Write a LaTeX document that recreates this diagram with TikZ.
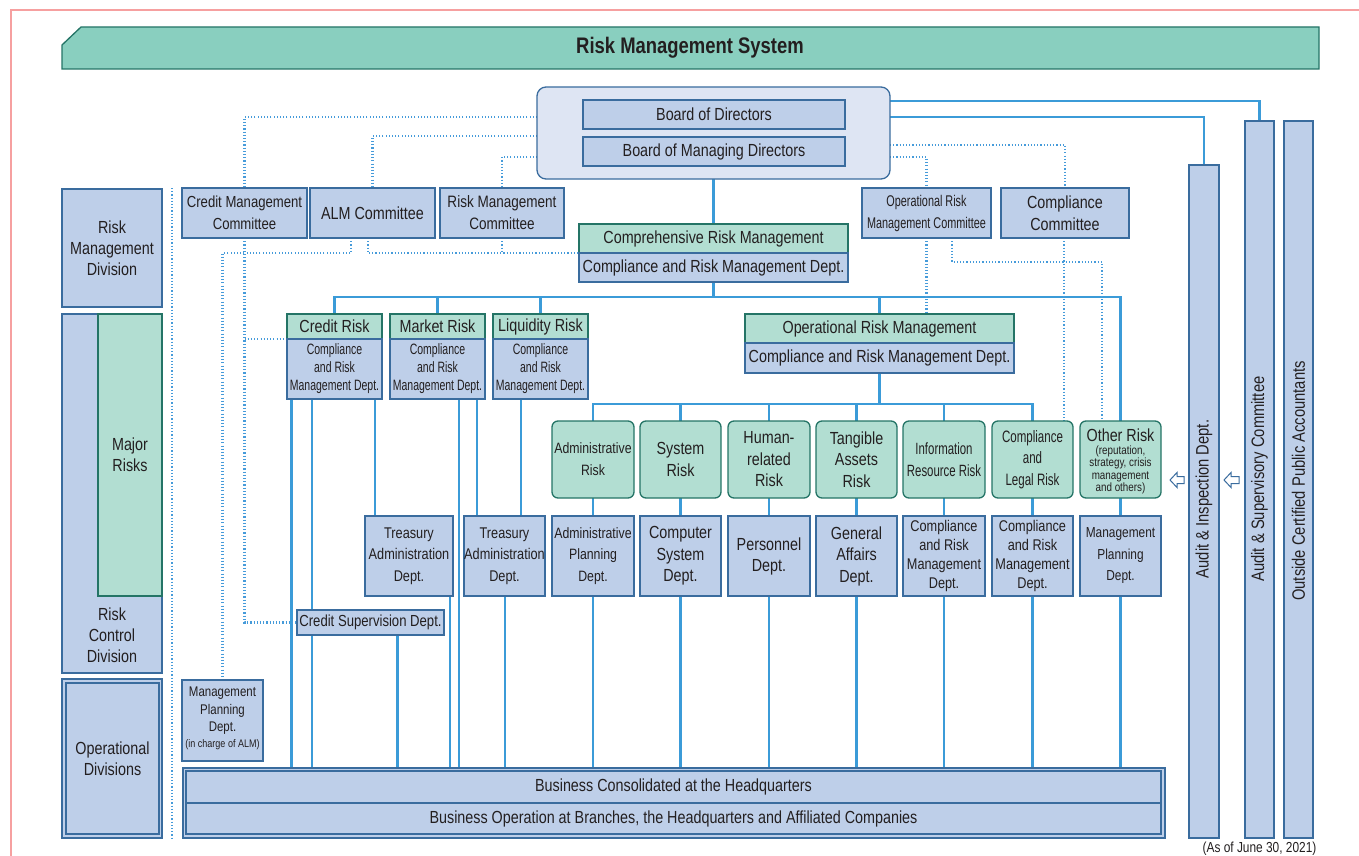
\documentclass[tikz,border=0pt]{standalone}
\usepackage{fontspec}
\setmainfont{Liberation Sans}[FakeStretch=0.82]
\newfontfamily\cond{Liberation Sans}[FakeStretch=0.7]
\usetikzlibrary{backgrounds}
\definecolor{boxc}{RGB}{190,207,233}
\definecolor{boxb}{RGB}{58,108,158}
\definecolor{grc}{RGB}{178,222,210}
\definecolor{grb}{RGB}{36,116,102}
\definecolor{titc}{RGB}{137,207,191}
\definecolor{lnc}{RGB}{59,155,216}
\definecolor{dotc}{RGB}{70,155,218}
\definecolor{contc}{RGB}{222,229,243}
\definecolor{txtc}{RGB}{35,31,32}
\definecolor{pinkc}{RGB}{246,160,160}
\newcommand\fsz[2]{\fontsize{#1}{#2}\selectfont}
\newcommand\mkbox[7]{\node[#1,minimum width={#5-#3},minimum height={#6-#4}] (#2) at ({(#3+#5)/2},{(#4+#6)/2}) {#7};}
\tikzset{
 base/.style={draw=boxb, line width=1.3pt, inner sep=0pt, outer sep=0pt, align=center, text=txtc, font=\fsz{17.5}{21}},
 bbox/.style={base, fill=boxc},
 gbox/.style={base, fill=grc, draw=grb},
 rbox/.style={gbox, rounded corners=6pt},
 cont/.style={base, fill=contc, rounded corners=9pt},
 sol/.style={draw=lnc, line width=2.2pt},
 dotl/.style={draw=dotc, line width=2.3pt, dash pattern=on 1.1pt off 2.1pt},
 lbl/.style={inner sep=0pt, outer sep=0pt, align=center, text=txtc},
 harrow/.style={draw=boxb, fill=white, line width=1pt},
}
\begin{document}
\begin{tikzpicture}[x=1pt,y=-1pt]
\useasboundingbox (0,0) rectangle (1359,856);
\draw[pinkc, line width=1.3pt] (11,856) -- (11,10) -- (1359,10);
% title
\filldraw[fill=titc, draw=grb, line width=1.3pt] (62,45) -- (81,27) -- (1319,27) -- (1319,69) -- (62,69) -- cycle;
\node[lbl, font=\bfseries\fsz{22.5}{26}] (title) at (690,48) {Risk Management System};
% board
\mkbox{cont}{board}{537}{87}{890}{179}{}
\mkbox{bbox}{bod}{583}{100}{845}{129}{Board of Directors}
\mkbox{bbox}{bomd}{583}{137}{845}{166}{Board of Managing Directors}
% committees
\mkbox{bbox,font=\fsz{16}{22}}{cmc}{182}{188}{307}{238}{Credit Management\\Committee}
\mkbox{bbox}{alm}{310}{188}{435}{238}{ALM Committee}
\mkbox{bbox,font=\fsz{16.5}{22}}{rmc}{440}{188}{564}{238}{Risk Management\\Committee}
\mkbox{bbox,font={\cond\fsz{15.5}{22}}}{orc}{862}{188}{991}{238}{Operational Risk\\Management Committee}
\mkbox{bbox,font=\fsz{17.5}{22}}{ccm}{1001}{188}{1129}{238}{Compliance\\Committee}
% comprehensive
\mkbox{gbox}{compH}{579}{224}{848}{253}{Comprehensive Risk Management}
\mkbox{bbox}{compB}{579}{253}{848}{282}{Compliance and Risk Management Dept.}
% left divisions
\mkbox{bbox}{rmd}{62}{189}{162}{307}{Risk\\Management\\Division}
\mkbox{bbox}{rcd}{62}{314}{162}{673}{}
\mkbox{gbox}{major}{98}{314}{162}{596}{Major\\Risks}
\node[lbl, font=\fsz{17.5}{21}] (rcdt) at (112,635) {Risk\\Control\\Division};
\mkbox{bbox}{opdo}{62}{679}{162}{838}{}
\mkbox{bbox}{opd}{66}{683}{159}{834}{Operational\\Divisions}
% major risks
\mkbox{gbox}{credH}{287}{314}{382}{339}{Credit Risk}
\mkbox{bbox,font={\cond\fsz{15}{18}}}{credB}{287}{339}{382}{399}{Compliance\\and Risk\\Management Dept.}
\mkbox{gbox}{mktH}{390}{314}{485}{339}{Market Risk}
\mkbox{bbox,font={\cond\fsz{15}{18}}}{mktB}{390}{339}{485}{399}{Compliance\\and Risk\\Management Dept.}
\mkbox{gbox}{liqH}{493}{314}{588}{339}{Liquidity Risk}
\mkbox{bbox,font={\cond\fsz{15}{18}}}{liqB}{493}{339}{588}{399}{Compliance\\and Risk\\Management Dept.}
\mkbox{gbox}{opH}{745}{314}{1014}{343}{Operational Risk Management}
\mkbox{bbox}{opB}{745}{343}{1014}{373}{Compliance and Risk Management Dept.}
% operational risks
\mkbox{rbox,font=\fsz{15}{22}}{admR}{552}{421}{634}{498}{Administrative\\Risk}
\mkbox{rbox,font=\fsz{17.5}{22}}{sysR}{640}{421}{721}{498}{System\\Risk}
\mkbox{rbox,font=\fsz{17.5}{21.5}}{humR}{728}{421}{810}{498}{Human-\\related\\Risk}
\mkbox{rbox,font=\fsz{17.5}{21.5}}{tanR}{816}{421}{897}{498}{Tangible\\Assets\\Risk}
\mkbox{rbox,font={\cond\fsz{16.3}{22}}}{infR}{903}{421}{985}{498}{Information\\Resource Risk}
\mkbox{rbox,font={\cond\fsz{16.5}{21.5}}}{legR}{992}{421}{1073}{498}{Compliance\\and\\Legal Risk}
\mkbox{rbox}{othR}{1080}{421}{1161}{498}{}
\node[lbl, font=\fsz{17.5}{20}] (othT) at (1120.5,435) {Other Risk};
\node[lbl, font=\fsz{12}{12.5}] (othS) at (1120.5,470) {(reputation,\\strategy, crisis\\management\\and others)};
% departments
\mkbox{bbox,font=\fsz{15.5}{21.5}}{tre1}{365}{516}{453}{596}{Treasury\\Administration\\Dept.}
\mkbox{bbox,font=\fsz{15.5}{21.5}}{tre2}{464}{516}{545}{596}{Treasury\\Administration\\Dept.}
\mkbox{bbox,font=\fsz{15}{21.5}}{admD}{552}{516}{634}{596}{Administrative\\Planning\\Dept.}
\mkbox{bbox,font=\fsz{17.5}{21.5}}{sysD}{640}{516}{721}{596}{Computer\\System\\Dept.}
\mkbox{bbox,font=\fsz{17.5}{21}}{humD}{728}{516}{810}{596}{Personnel\\Dept.}
\mkbox{bbox,font=\fsz{17.5}{21.5}}{tanD}{816}{516}{897}{596}{General\\Affairs\\Dept.}
\mkbox{bbox,font=\fsz{15.5}{19}}{infD}{903}{516}{985}{596}{Compliance\\and Risk\\Management\\Dept.}
\mkbox{bbox,font=\fsz{15.5}{19}}{legD}{992}{516}{1073}{596}{Compliance\\and Risk\\Management\\Dept.}
\mkbox{bbox,font=\fsz{14.5}{21.5}}{othD}{1080}{516}{1161}{596}{Management\\Planning\\Dept.}
\mkbox{bbox,font=\fsz{16}{20}}{csd}{297}{610}{444}{635}{Credit Supervision Dept.}
\mkbox{bbox,font=\fsz{14}{17.5}}{mpd}{182}{680}{263}{761}{}
\node[lbl, font=\fsz{14}{17.5}] (mpdt) at (222.5,711) {Management\\Planning\\Dept.};
\node[lbl, font=\fsz{11}{12}] (mpds) at (222.5,745) {(in charge of ALM)};
% business
\mkbox{bbox}{busO}{183}{768}{1165}{838}{}
\mkbox{bbox}{busA}{186}{771}{1161}{803}{Business Consolidated at the Headquarters}
\mkbox{bbox}{busB}{186}{803}{1161}{834}{Business Operation at Branches, the Headquarters and Affiliated Companies}
% audit columns
\mkbox{bbox}{aud1}{1189}{165}{1219}{838}{}
\mkbox{bbox}{aud2}{1245}{121}{1274}{838}{}
\mkbox{bbox}{cpa}{1284}{121}{1313}{838}{}
\node[lbl, rotate=90, font=\fsz{18}{20}] (aud1t) at (1204,499) {Audit \& Inspection Dept.};
\node[lbl, rotate=90, font=\fsz{18}{20}] (aud2t) at (1259.5,479) {Audit \& Supervisory Committee};
\node[lbl, rotate=90, font=\fsz{18}{20}] (cpat) at (1298.5,481) {Outside Certified Public Accountants};
\node[lbl, font=\fsz{14.5}{16}] (asof) at (1259.5,848.5) {(As of June 30, 2021)};
% hollow arrows
\filldraw[harrow] (1170,480) -- (1177,472.5) -- (1177,476.5) -- (1184,476.5) -- (1184,483.5) -- (1177,483.5) -- (1177,487.5) -- cycle;
\filldraw[harrow] (1224,480) -- (1231,472.5) -- (1231,476.5) -- (1239,476.5) -- (1239,483.5) -- (1231,483.5) -- (1231,487.5) -- cycle;
% connectors
\begin{pgfonlayer}{background}
\draw[sol] (bod.south) -- (bomd.north);
\draw[sol] (board.south) -- (compH.north);
\draw[sol] (board.east |- 0,101) -| (aud2.north);
\draw[sol] (board.east |- 0,117) -| (aud1.north);
\coordinate (busY) at (0,297);
\draw[sol] (credH.north) -- (credH.north |- busY) -- (othR.north |- busY) -- (othR.north);
\draw[sol] (compB.south) -- (compB.south |- busY);
\draw[sol] (mktH.north) -- (mktH.north |- busY);
\draw[sol] (liqH.north) -- (liqH.north |- busY);
\draw[sol] (opH.north) -- (opH.north |- busY);
\coordinate (busZ) at (0,404);
\draw[sol] (opB.south) -- (opB.south |- busZ);
\draw[sol] (admR.north) -- (admR.north |- busZ) -- (legR.north |- busZ) -- (legR.north);
\foreach \n in {sys,hum,tan,inf}{\draw[sol] (\n R.north) -- (\n R.north |- busZ);}
\foreach \n in {adm,sys,hum,tan,inf,leg,oth}{
  \draw[sol] (\n R.south) -- (\n D.north);
  \draw[sol] (\n D.south) -- (\n D.south |- busO.north);}
\draw[sol] (291.5,0 |- credB.south) -- (291.5,0 |- busO.north);
\draw[sol] (312,0 |- credB.south) -- (312,0 |- busO.north);
\draw[sol] (375,0 |- credB.south) -- (375,0 |- tre1.north);
\draw[sol] (450,0 |- tre1.south) -- (450,0 |- busO.north);
\draw[sol] (397.5,0 |- csd.south) -- (397.5,0 |- busO.north);
\draw[sol] (459,0 |- mktB.south) -- (459,0 |- busO.north);
\draw[sol] (477,0 |- mktB.south) -- (477,0 |- tre2.north);
\draw[sol] (521,0 |- liqB.south) -- (521,0 |- tre2.north);
\draw[sol] (505,0 |- tre2.south) -- (505,0 |- busO.north);
% dotted
\draw[dotl] (board.west |- 0,117) -| (cmc.north);
\draw[dotl] (board.west |- 0,136) -| (alm.north);
\draw[dotl] (board.west |- 0,157) -| (rmc.north);
\draw[dotl] (board.east |- 0,145) -| (ccm.north);
\draw[dotl] (board.east |- 0,157) -| (orc.north);
\draw[dotl] (cmc.south) |- (csd.west);
\draw[dotl] (cmc.south |- credB.north) -- (credB.north west);
\draw[dotl] (351,0 |- alm.south) |- (mpd.north |- 0,253) -- (mpd.north);
\draw[dotl] (368,0 |- alm.south) |- (compB.north west);
\draw[dotl] (rmc.south) -- (rmc.south |- compB.north west);
\draw[dotl] (orc.south) -- (orc.south |- opH.north);
\draw[dotl] (952,0 |- orc.south) |- (1102,262) -- (1102,0 |- othR.north);
\draw[dotl] (1064,0 |- ccm.south) -- (1064,0 |- legR.north);
\draw[dotl] (172,188) -- (172,838);
\end{pgfonlayer}
\end{tikzpicture}
\end{document}
